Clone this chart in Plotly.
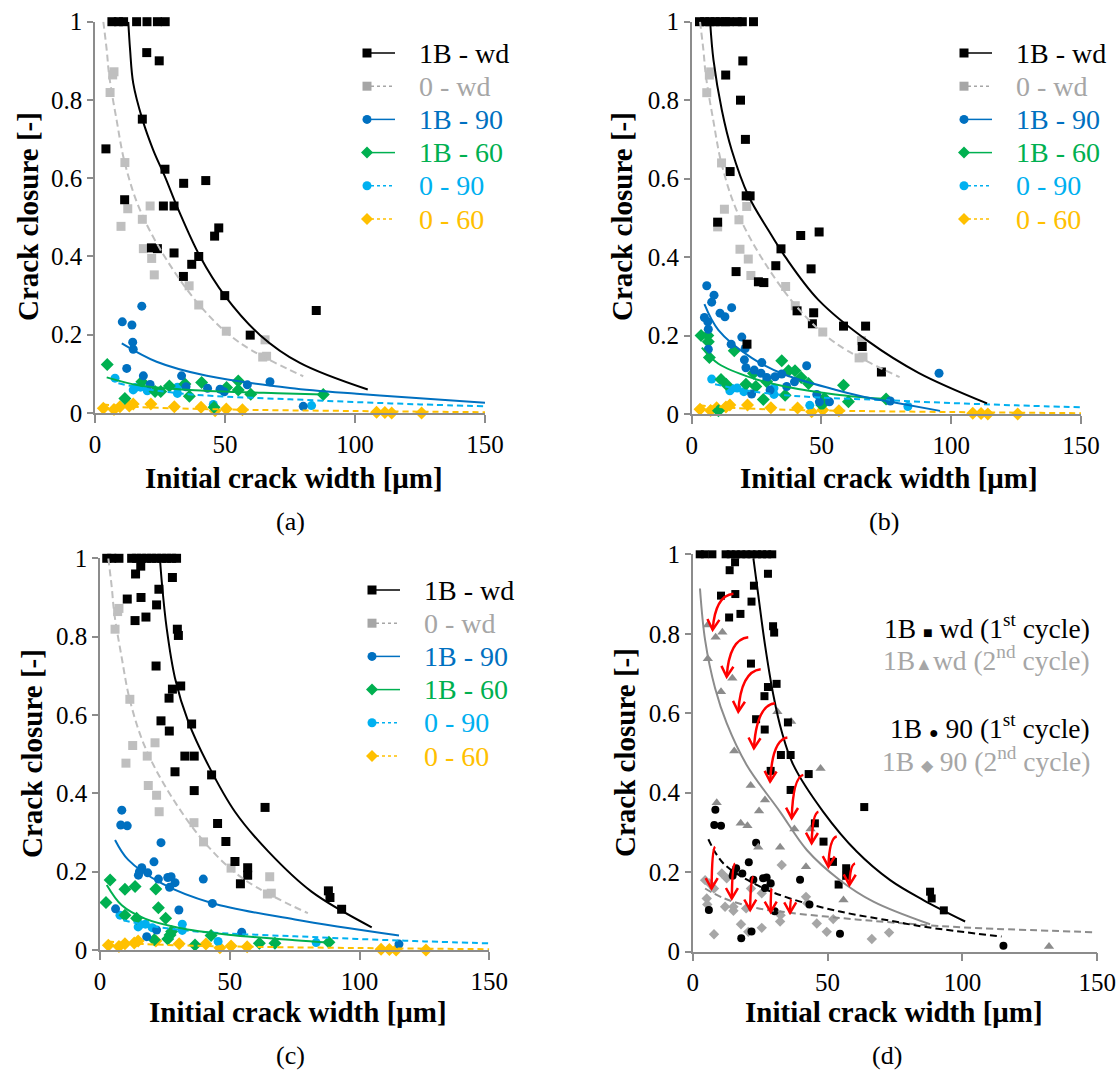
import math
import plotly.graph_objects as go

W, H = 1119, 1074
SERIF = "Liberation Serif"

# ---------------- data: "0" series (identical in panels a, b, c) ----------------
ZERO_WD_X = [7.3, 6.8, 5.8, 11.5, 12.6, 21.2, 10.0, 18.2, 18.6, 21.8, 22.8, 36.2, 39.9, 50.5, 65.4, 64.5, 66.0]
ZERO_WD_Y = [0.872, 0.864, 0.819, 0.64, 0.522, 0.529, 0.477, 0.495, 0.42, 0.395, 0.353, 0.325, 0.276, 0.209, 0.187, 0.143, 0.145]
ZERO_90_X = [7.7, 14.7, 15.5, 17.5, 20.1, 31.7, 31.7, 45.5, 83.3]
ZERO_90_Y = [0.089, 0.059, 0.065, 0.066, 0.057, 0.066, 0.05, 0.022, 0.019]
ZERO_60_X = [3.2, 7.3, 9.6, 13.2, 14.7, 21.5, 30.5, 40.8, 46.2, 50.5, 56.7, 108.3, 111.5, 114.1, 125.6]
ZERO_60_Y = [0.012, 0.009, 0.016, 0.018, 0.023, 0.023, 0.016, 0.015, 0.006, 0.01, 0.008, 0.002, 0.001, 0.0, 0.0]
# trendlines
ZERO_WD_FIT_X = [3.2, 4.5, 5.5, 8.3, 11.5, 17.3, 27.6, 41.7, 55.8, 80.1]
ZERO_WD_FIT_Y = [1.0, 0.928, 0.86, 0.749, 0.638, 0.519, 0.391, 0.264, 0.179, 0.094]
ZERO_90_FIT_X = [9.0, 20.0, 36.0, 50.0, 75.0, 100.0, 125.0, 150.0]
ZERO_90_FIT_Y = [0.076, 0.061, 0.048, 0.042, 0.035, 0.028, 0.022, 0.017]
ZERO_60_FIT_X = [3.0, 10.0, 25.0, 50.0, 100.0, 150.0]
ZERO_60_FIT_Y = [0.022, 0.018, 0.013, 0.009, 0.005, 0.002]

# ---------------- panel (a) ----------------
A_WD_X = [6.5, 9, 11, 16, 20, 24, 27, 19.9, 24.7, 18.2, 4.2, 26.9, 34.1, 42.6, 11.4, 26.3, 30.4, 47.6, 46.0,
          21.7, 24.0, 30.4, 39.9, 37.2, 34.0, 49.9, 59.7, 85.1]
A_WD_Y = [1, 1, 1, 1, 1, 1, 1, 0.921, 0.9, 0.751, 0.675, 0.623, 0.587, 0.594, 0.545, 0.529, 0.529, 0.473, 0.452,
          0.422, 0.42, 0.409, 0.4, 0.38, 0.349, 0.3, 0.199, 0.262]
A_90_X = [18, 10.5, 14.2, 14.5, 14.7, 12.2, 18.6, 21.2, 33.3, 35, 43.3, 48.1, 49.7, 58.6, 67.3, 80.1]
A_90_Y = [0.273, 0.233, 0.225, 0.181, 0.163, 0.114, 0.095, 0.073, 0.095, 0.067, 0.063, 0.061, 0.054, 0.072, 0.08, 0.017]
A_60_X = [4.7, 18, 11.5, 23.1, 25.3, 28.6, 34.6, 36.3, 41, 50.6, 55.1, 55.1, 59.9, 45.8, 87.8]
A_60_Y = [0.124, 0.08, 0.037, 0.055, 0.055, 0.069, 0.074, 0.043, 0.078, 0.065, 0.082, 0.059, 0.048, 0.015, 0.047]
A_WD_FIT_X = [12.8, 13.5, 14.7, 18.2, 22.4, 26.9, 32.1, 40.4, 49.9, 63.5, 78.8, 104.9]
A_WD_FIT_Y = [1.0, 0.928, 0.843, 0.751, 0.672, 0.604, 0.519, 0.4, 0.3, 0.199, 0.128, 0.06]
A_90_FIT_X = [10.3, 23.7, 43.0, 75.0, 100.6, 126.3, 150.0]
A_90_FIT_Y = [0.178, 0.131, 0.095, 0.064, 0.049, 0.037, 0.026]
A_60_FIT_X = [4.5, 17.3, 36.5, 73.7, 87.8]
A_60_FIT_Y = [0.091, 0.070, 0.059, 0.050, 0.047]

# ---------------- panel (b) ----------------
B_WD_X = [3, 5, 7, 9, 11, 13, 14.5, 17.5, 19.5, 23.8, 19.7, 13.1, 18.8, 20.7, 14.8, 21, 22.5, 10, 42, 49.1, 34.4,
          32.4, 46, 17.1, 25.7, 27.8, 40.6, 47, 46.5, 58.5, 67, 65.7, 73.1, 21.3]
B_WD_Y = [1, 1, 1, 1, 1, 1, 1, 1, 1, 1, 0.9, 0.864, 0.8, 0.7, 0.618, 0.556, 0.556, 0.489, 0.455, 0.464, 0.421,
          0.378, 0.37, 0.363, 0.337, 0.335, 0.263, 0.258, 0.23, 0.224, 0.224, 0.172, 0.107, 0.178]
B_90_X = [5.8, 8.6, 7.7, 15.4, 10.9, 12.8, 4.9, 6.2, 6.4, 19.3, 6.4, 15.2, 20.6, 20.3, 27, 20.9, 24.1, 26.7, 28.9,
          32.1, 34.7, 39.6, 36.6, 44.3, 30.2, 23.1, 48.2, 49.2, 53.1, 95.3, 76.5]
B_90_Y = [0.327, 0.303, 0.285, 0.271, 0.257, 0.248, 0.246, 0.235, 0.216, 0.196, 0.165, 0.178, 0.167, 0.138, 0.131,
          0.118, 0.112, 0.104, 0.093, 0.095, 0.102, 0.082, 0.07, 0.123, 0.061, 0.051, 0.05, 0.031, 0.031, 0.104, 0.033]
B_60_X = [3.6, 6.2, 6.4, 6.8, 16.4, 11.3, 13.3, 20.9, 24.7, 27.6, 28.9, 23.8, 34.7, 37.3, 39.8, 42.2, 45, 36, 50.1,
          51.1, 58.5, 60.4, 10.3, 74.9]
B_60_Y = [0.2, 0.2, 0.184, 0.144, 0.161, 0.088, 0.076, 0.076, 0.07, 0.037, 0.082, 0.104, 0.136, 0.11, 0.11, 0.093,
          0.078, 0.048, 0.023, 0.04, 0.073, 0.031, 0.008, 0.038]
B_WD_FIT_X = [7.1, 8.4, 11.6, 15.4, 21.8, 29.5, 36.0, 48.8, 68.1, 87.4, 113.8]
B_WD_FIT_Y = [1.0, 0.902, 0.775, 0.673, 0.557, 0.469, 0.401, 0.291, 0.185, 0.105, 0.027]
B_90_FIT_X = [4.9, 10.3, 23.1, 36.0, 55.3, 64.9, 76.5, 95.7]
B_90_FIT_Y = [0.28, 0.214, 0.143, 0.10, 0.062, 0.046, 0.031, 0.008]
B_60_FIT_X = [3.9, 10.3, 23.1, 36.0, 55.3, 74.9]
B_60_FIT_Y = [0.169, 0.128, 0.092, 0.070, 0.050, 0.038]

# ---------------- panel (c) and 1st cycle of panel (d) ----------------
C_WD_X = [2.6, 4.5, 7.3, 12.2, 14.1, 16, 18, 19.9, 21.8, 23.8, 25.7, 27.6, 29.5,
          15.7, 13.7, 27.9, 22.7, 10.5, 15.8, 21.8, 13.5, 17.7, 29.8, 30.2, 21.6, 27.9, 31.1, 26.6, 23.5, 35.3, 26.7,
          32.7, 36.3, 28.9, 43, 36.3, 63.6, 45.3, 48.5, 52, 56.9, 56.9, 54.1, 88, 88.6, 93.1]
C_WD_Y = [1, 1, 1, 1, 1, 1, 1, 1, 1, 1, 1, 1, 1,
          0.98, 0.96, 0.951, 0.921, 0.896, 0.9, 0.881, 0.841, 0.85, 0.819, 0.803, 0.725, 0.666, 0.674, 0.643, 0.585,
          0.577, 0.559, 0.495, 0.495, 0.455, 0.447, 0.407, 0.364, 0.323, 0.277, 0.226, 0.21, 0.191, 0.169, 0.151,
          0.134, 0.104]
C_90_X = [8.4, 8, 10.5, 23.5, 20.8, 16.1, 14.8, 18.4, 22.5, 26.1, 27.4, 28.9, 26.8, 39.8, 43.3, 30.4, 6, 21.8, 18,
          54.6, 115.2, 15.2]
C_90_Y = [0.357, 0.319, 0.317, 0.274, 0.225, 0.21, 0.191, 0.197, 0.181, 0.185, 0.187, 0.172, 0.16, 0.181, 0.119,
          0.102, 0.105, 0.051, 0.034, 0.045, 0.015, 0.2]
C_60_X = [3.9, 9.6, 13.5, 21.5, 2.3, 22.5, 9.6, 14.1, 25.3, 27.6, 27, 26.1, 20.9, 42.8, 36.6, 61.4, 67.4, 88.2]
C_60_Y = [0.179, 0.155, 0.162, 0.156, 0.121, 0.108, 0.089, 0.081, 0.081, 0.047, 0.038, 0.028, 0.026, 0.037, 0.013,
          0.017, 0.017, 0.02]
C_WD_FIT_X = [23.1, 23.8, 25.7, 28.9, 34.0, 41.7, 52.0, 64.9, 81.5, 104.7]
C_WD_FIT_Y = [1.0, 0.94, 0.821, 0.694, 0.583, 0.472, 0.353, 0.251, 0.149, 0.058]
C_90_FIT_X = [5.8, 10.9, 23.8, 43.0, 75.1, 115.2]
C_90_FIT_Y = [0.281, 0.23, 0.170, 0.120, 0.078, 0.037]
C_60_FIT_X = [2.6, 8.4, 17.3, 30.2, 49.4, 75.1, 88.0]
C_60_FIT_Y = [0.166, 0.114, 0.080, 0.057, 0.039, 0.025, 0.019]

# ---------------- panel (d): 2nd cycle ----------------
D2_WD_X = [5.6, 11, 8.5, 5.6, 14.7, 10.5, 31.4, 36.5, 15.4, 47.4, 21.5, 26.8, 8.9, 24.6, 17.8, 20.3, 37.7, 43.7,
           24.3, 32.4, 42, 55.9, 132.1]
D2_WD_Y = [0.822, 0.804, 0.791, 0.737, 0.688, 0.654, 0.604, 0.579, 0.505, 0.461, 0.418, 0.382, 0.375, 0.354, 0.323,
           0.317, 0.309, 0.309, 0.263, 0.263, 0.214, 0.13, 0.013]
D2_90_X = [4.6, 6.2, 7.9, 5.2, 5.4, 12.0, 15.1, 15.1, 19.8, 12.6, 10.8, 21.6, 25.6, 28.7, 33.0, 32.6, 32.4, 42.0,
           42.5, 46.0, 49.7, 52.1, 17.9, 25.6, 20.6, 7.9, 66.4, 72.8]
D2_90_Y = [0.18, 0.172, 0.159, 0.134, 0.119, 0.113, 0.113, 0.103, 0.109, 0.185, 0.197, 0.159, 0.147, 0.168, 0.218,
           0.092, 0.076, 0.138, 0.122, 0.071, 0.05, 0.082, 0.069, 0.06, 0.05, 0.044, 0.032, 0.048]
D1_WD_FIT_X = [22.5, 24.3, 26.8, 29.9, 33.0, 37.3, 48.4, 60.8, 73.2, 85.5, 101.0]
D1_WD_FIT_Y = [0.99, 0.898, 0.772, 0.646, 0.554, 0.47, 0.352, 0.252, 0.18, 0.13, 0.076]
D2_WD_FIT_X = [2.7, 4.6, 8.3, 12.6, 20.0, 32.4, 42.3, 54.6, 67.0, 88.0]
D2_WD_FIT_Y = [0.914, 0.784, 0.663, 0.575, 0.47, 0.352, 0.256, 0.18, 0.126, 0.069]
D1_90_FIT_X = [5.8, 11.4, 23.7, 36.1, 54.6, 73.2, 85.5, 114.5]
D1_90_FIT_Y = [0.283, 0.222, 0.168, 0.134, 0.101, 0.078, 0.063, 0.038]
D2_90_FIT_X = [4.6, 11.4, 23.7, 36.1, 54.6, 73.2, 97.9, 149.1]
D2_90_FIT_Y = [0.159, 0.135, 0.110, 0.098, 0.085, 0.074, 0.062, 0.049]
# red arrows (1st cycle -> 2nd cycle)
ARROW_TAIL_X = [15.1, 20.6, 25.2, 30.5, 35.1, 41.0, 46.6, 53.4, 60.2, 8.3, 15.7, 22.5, 29.3, 36.6]
ARROW_TAIL_Y = [0.901, 0.791, 0.711, 0.625, 0.539, 0.445, 0.352, 0.29, 0.222, 0.264, 0.222, 0.189, 0.159, 0.132]
ARROW_HEAD_X = [7.4, 12.6, 16.9, 22.7, 28.7, 36.7, 44.1, 50.3, 58.1, 7.0, 14.5, 21.3, 28.9, 36.1]
ARROW_HEAD_Y = [0.81, 0.692, 0.604, 0.512, 0.428, 0.336, 0.273, 0.214, 0.168, 0.159, 0.134, 0.105, 0.1, 0.098]

# legend labels
LEGEND_NAMES = ["1B - wd", "0 - wd", "1B - 90", "1B - 60", "0 - 90", "0 - 60"]

# ---------------- styles ----------------
BLACK = "#000000"
GREY0 = "#BFBFBF"
GREY0_TXT = "#A6A6A6"
BLUE = "#0070C0"
GREEN = "#00B050"
LBLUE = "#00B0F0"
ORANGE = "#FFC000"
GREY2 = "#8C8C8C"
GREY2_D = "#A6A6A6"
AXIS_COL = "#8C8C8C"
RED = "#FF0000"

# plot areas in pixels: (x0, x1, ytop, ybottom)
PANELS = {
    "": (95, 485, 21.7, 413),
    "2": (691.7, 1081, 21.7, 414),
    "3": (100, 489.3, 558.3, 950),
    "4": (692.7, 1097.3, 554.3, 951.7),
}


def PX(p):
    return p / W


def PY(p):
    return 1 - p / H


fig = go.Figure()


def pts(n, x, y, color, symbol, size):
    fig.add_trace(go.Scatter(x=x, y=y, mode="markers", xaxis="x" + n, yaxis="y" + n, showlegend=False,
                             cliponaxis=False, hoverinfo="skip",
                             marker=dict(color=color, symbol=symbol, size=size, line=dict(width=0))))


def fit(n, x, y, color, dash="solid", width=2):
    fig.add_trace(go.Scatter(x=x, y=y, mode="lines", xaxis="x" + n, yaxis="y" + n, showlegend=False,
                             hoverinfo="skip",
                             line=dict(color=color, dash=dash, width=width, shape="spline", smoothing=1.0)))


DASH_G = "7px,4px"
DASH_C = "6px,4px"

for n, wd, w90, w60, fwd, f90, f60 in [
    ("", (A_WD_X, A_WD_Y), (A_90_X, A_90_Y), (A_60_X, A_60_Y),
     (A_WD_FIT_X, A_WD_FIT_Y), (A_90_FIT_X, A_90_FIT_Y), (A_60_FIT_X, A_60_FIT_Y)),
    ("2", (B_WD_X, B_WD_Y), (B_90_X, B_90_Y), (B_60_X, B_60_Y),
     (B_WD_FIT_X, B_WD_FIT_Y), (B_90_FIT_X, B_90_FIT_Y), (B_60_FIT_X, B_60_FIT_Y)),
    ("3", (C_WD_X, C_WD_Y), (C_90_X, C_90_Y), (C_60_X, C_60_Y),
     (C_WD_FIT_X, C_WD_FIT_Y), (C_90_FIT_X, C_90_FIT_Y), (C_60_FIT_X, C_60_FIT_Y)),
]:
    pts(n, ZERO_60_X, ZERO_60_Y, ORANGE, "diamond", 10)
    pts(n, ZERO_90_X, ZERO_90_Y, LBLUE, "circle", 9)
    pts(n, *w60, GREEN, "diamond", 10)
    pts(n, *w90, BLUE, "circle", 9)
    pts(n, ZERO_WD_X, ZERO_WD_Y, GREY0, "square", 9)
    pts(n, *wd, BLACK, "square", 9)
    fit(n, ZERO_WD_FIT_X, ZERO_WD_FIT_Y, GREY0, DASH_G, 2)
    fit(n, ZERO_60_FIT_X, ZERO_60_FIT_Y, ORANGE, DASH_C, 2)
    fit(n, ZERO_90_FIT_X, ZERO_90_FIT_Y, LBLUE, DASH_C, 2)
    fit(n, *f60, GREEN, "solid", 2)
    fit(n, *f90, BLUE, "solid", 2)
    fit(n, *fwd, BLACK, "solid", 2)

# panel (d)
pts("4", D2_90_X, D2_90_Y, GREY2_D, "diamond", 8)
pts("4", C_90_X, C_90_Y, BLACK, "circle", 8)
pts("4", D2_WD_X, D2_WD_Y, GREY2, "triangle-up", 9)
pts("4", C_WD_X, C_WD_Y, BLACK, "square", 8)
fit("4", D2_90_FIT_X, D2_90_FIT_Y, GREY2, DASH_G, 2)
fit("4", D1_90_FIT_X, D1_90_FIT_Y, BLACK, DASH_G, 2)
fit("4", D2_WD_FIT_X, D2_WD_FIT_Y, GREY2, "solid", 2)
fit("4", D1_WD_FIT_X, D1_WD_FIT_Y, BLACK, "solid", 2)

layout = dict(width=W, height=H, autosize=False, margin=dict(l=0, r=0, t=0, b=0, pad=0), paper_bgcolor="white",
              plot_bgcolor="white", showlegend=False, font=dict(family=SERIF, size=24, color="black"))
for n, (x0, x1, yt, yb) in PANELS.items():
    common = dict(showline=True, linecolor=AXIS_COL, linewidth=1.5, ticks="outside", tickcolor=AXIS_COL,
                  tickwidth=1.5, showgrid=False, zeroline=False, automargin=False,
                  tickfont=dict(family=SERIF, size=25, color="black"))
    layout["xaxis" + n] = dict(common, domain=[x0 / W, x1 / W], range=[0, 150], tickvals=[0, 50, 100, 150],
                               ticklen=8, anchor="y" + n)
    layout["yaxis" + n] = dict(common, domain=[1 - yb / H, 1 - yt / H], range=[0, 1], dtick=0.2, tick0=0,
                               ticklen=6, anchor="x" + n)
fig.update_layout(**layout)

ann = []
shapes = []
TITLE_FONT = dict(family=SERIF, size=29, color="black")
for (xp, yp) in [(28, 217), (622, 217), (32, 754), (625, 753)]:
    ann.append(dict(text="<b>Crack closure [-]</b>", x=PX(xp), y=PY(yp), xref="paper", yref="paper",
                    showarrow=False, textangle=-90, font=TITLE_FONT, xanchor="center", yanchor="middle"))
for (xp, yp) in [(294, 478), (889, 478), (298, 1012), (894, 1012)]:
    ann.append(dict(text="<b>Initial crack width [μm]</b>", x=PX(xp), y=PY(yp), xref="paper", yref="paper",
                    showarrow=False, font=TITLE_FONT, xanchor="center", yanchor="middle"))
for lab, (xp, yp) in zip(["(a)", "(b)", "(c)", "(d)"], [(290, 521), (884, 521), (290, 1055), (887, 1055)]):
    ann.append(dict(text=lab, x=PX(xp), y=PY(yp), xref="paper", yref="paper", showarrow=False,
                    font=dict(family=SERIF, size=26, color="black"), xanchor="center", yanchor="middle"))

# legends of panels a-c (symbol + short line + coloured text)
LEG_STYLE = [  # (marker colour, text colour, symbol, dashed)
    (BLACK, BLACK, "square", False),
    (GREY0_TXT, GREY0_TXT, "square", True),
    (BLUE, BLUE, "circle", False),
    (GREEN, GREEN, "diamond", False),
    (LBLUE, LBLUE, "circle", True),
    (ORANGE, ORANGE, "diamond", True),
]
for mx, y0 in [(367, 53), (964, 53), (372, 590)]:
    for i, (name, (mcol, tcol, sym, dashed)) in enumerate(zip(LEGEND_NAMES, LEG_STYLE)):
        yc = y0 + i * 33.2
        shapes.append(dict(type="line", xref="paper", yref="paper", x0=PX(mx + 4), x1=PX(mx + 28),
                           y0=PY(yc), y1=PY(yc),
                           line=dict(color=mcol, width=1.5, dash="3px,3px" if dashed else "solid")))
        r = 4.5
        if sym == "square":
            shapes.append(dict(type="rect", xref="paper", yref="paper", x0=PX(mx - r), x1=PX(mx + r),
                               y0=PY(yc + r), y1=PY(yc - r), fillcolor=mcol, line=dict(width=0)))
        elif sym == "circle":
            shapes.append(dict(type="circle", xref="paper", yref="paper", x0=PX(mx - r), x1=PX(mx + r),
                               y0=PY(yc + r), y1=PY(yc - r), fillcolor=mcol, line=dict(width=0)))
        else:
            d = 6
            path = "M %f,%f L %f,%f L %f,%f L %f,%f Z" % (PX(mx - d), PY(yc), PX(mx), PY(yc - d),
                                                      PX(mx + d), PY(yc), PX(mx), PY(yc + d))
            shapes.append(dict(type="path", xref="paper", yref="paper", path=path, fillcolor=mcol,
                               line=dict(width=0)))
        ann.append(dict(text=name, x=PX(mx + 50), y=PY(yc), xref="paper", yref="paper", showarrow=False,
                        font=dict(family=SERIF, size=28, color=tcol), xanchor="left", yanchor="middle"))

# legend text of panel (d)
D_LEG = [
    ('1B <span style="font-size:16px">■</span> wd (1<sup>st</sup> cycle)', BLACK, 626),
    ('1B<span style="font-size:18px">▲</span>wd (2<sup>nd</sup> cycle)', GREY0_TXT, 658),
    ('1B <span style="font-size:16px">●</span> 90 (1<sup>st</sup> cycle)', BLACK, 726),
    ('1B <span style="font-size:16px">◆</span> 90 (2<sup>nd</sup> cycle)', GREY0_TXT, 759),
]
for txt, col, yp in D_LEG:
    ann.append(dict(text=txt, x=PX(1092), y=PY(yp), xref="paper", yref="paper", showarrow=False,
                    font=dict(family=SERIF, size=27.5, color=col), xanchor="right", yanchor="middle"))

# red curved arrows in panel (d): curve + open V head, both as shapes
x0d, x1d, ytd, ybd = PANELS["4"]
SX = (x1d - x0d) / 150.0
SY = (ybd - ytd) / 1.0
HEAD_LEN = 12.0
HEAD_ANG = math.radians(30)
for tx, ty, hx, hy in zip(ARROW_TAIL_X, ARROW_TAIL_Y, ARROW_HEAD_X, ARROW_HEAD_Y):
    cx = hx + 0.12 * (tx - hx)
    cy = ty - 0.05 * (ty - hy)
    shapes.append(dict(type="path", xref="x4", yref="y4",
                       path="M %f,%f Q %f,%f %f,%f" % (tx, ty, cx, cy, hx, hy),
                       line=dict(color=RED, width=2.5)))
    ux = (cx - hx) * SX
    uy = (cy - hy) * SY
    L = math.hypot(ux, uy) or 1.0
    ux, uy = ux / L, uy / L
    wings = []
    for s in (1, -1):
        a = s * HEAD_ANG
        wx = ux * math.cos(a) - uy * math.sin(a)
        wy = ux * math.sin(a) + uy * math.cos(a)
        wings.append((hx + HEAD_LEN * wx / SX, hy + HEAD_LEN * wy / SY))
    shapes.append(dict(type="path", xref="x4", yref="y4",
                       path="M %f,%f L %f,%f L %f,%f" % (wings[0][0], wings[0][1], hx, hy,
                                                         wings[1][0], wings[1][1]),
                       line=dict(color=RED, width=2.5)))

fig.update_layout(annotations=ann, shapes=shapes)
fig.write_html("out.html", config={"displayModeBar": False, "responsive": False},
               post_script=("document.documentElement.style.margin='0px';"
                            "document.body.style.margin='0px';document.body.style.padding='0px';"
                            "document.documentElement.style.overflow='hidden';"
                            "document.body.style.overflow='hidden';window.scrollTo(0,0);"))
